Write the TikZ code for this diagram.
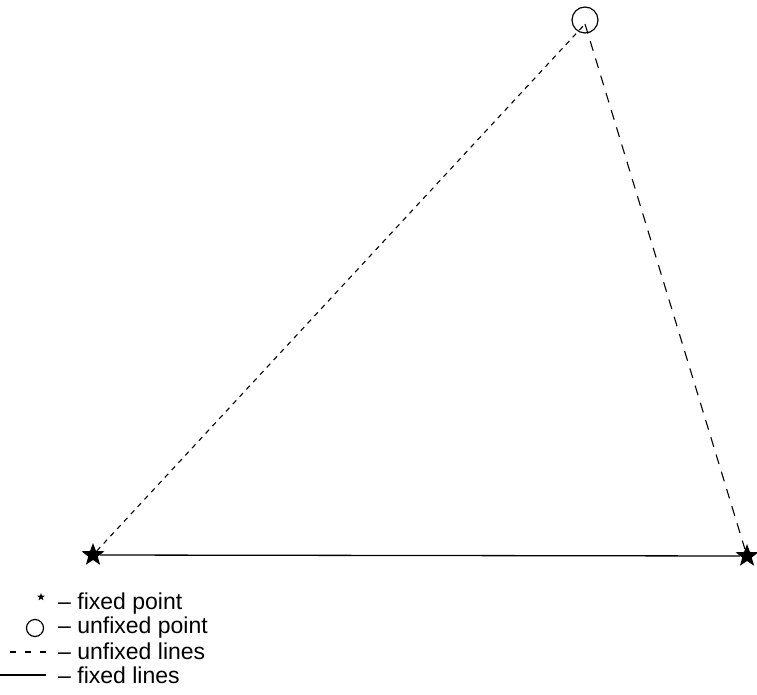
\documentclass[tikz,border=0pt]{standalone}
\usepackage{fontspec}
\setmainfont{Liberation Sans}
\usetikzlibrary{shapes.geometric}
\begin{document}
\begin{tikzpicture}[x=1pt,y=-1pt,
  fixedpt/.style={star,star points=5,star point ratio=2.4,fill=black,inner sep=0pt,minimum size=24pt},
  unfixedpt/.style={circle,draw,line width=1.2pt,inner sep=0pt,minimum size=26pt},
  shortdash/.style={line width=1.1pt,dash pattern=on 5pt off 5pt},
  longdash/.style={line width=1.1pt,dash pattern=on 10pt off 8pt},
  fixedline/.style={line width=1.3pt},
  legtext/.style={anchor=west,font=\fontsize{23}{25}\selectfont,inner sep=0pt}]
\useasboundingbox (0,0) rectangle (757,695);
\node[fixedpt] (A) at (93,555) {};
\node[fixedpt] (B) at (747,556) {};
\node[unfixedpt] (C) at (585,20) {};
\coordinate (Cin) at (585,24);
\draw[fixedline] (A) -- (B);
\draw[shortdash] (A) -- (Cin);
\draw[longdash] (Cin) -- (B);
% legend
\node[star,star points=5,star point ratio=2.4,fill=black,inner sep=0pt,minimum size=8pt] (L1) at (41,597) {};
\node[legtext] (T1) at (58,604) {-- fixed point};
\node[circle,draw,line width=1.2pt,inner sep=0pt,minimum size=17pt] (L2) at (35,628) {};
\node[legtext] (T2) at (58,628) {-- unfixed point};
\coordinate (L3a) at (10,652);
\coordinate (L3b) at (46,652);
\draw[line width=1.2pt,dash pattern=on 6pt off 9pt] (L3a) -- (L3b);
\node[legtext] (T3) at (58,651) {-- unfixed lines};
\coordinate (L4a) at (0,675);
\coordinate (L4b) at (46,675);
\draw[fixedline] (L4a) -- (L4b);
\node[legtext] (T4) at (58,675) {-- fixed lines};
\end{tikzpicture}
\end{document}
